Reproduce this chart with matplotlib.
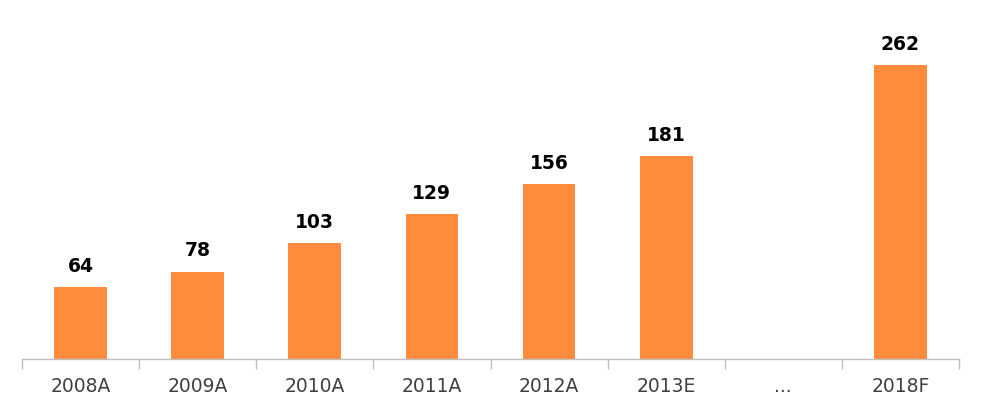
import matplotlib
matplotlib.use("Agg")
import matplotlib.pyplot as plt

categories = ["2008A", "2009A", "2010A", "2011A", "2012A", "2013E", "...", "2018F"]
values = [64, 78, 103, 129, 156, 181, None, 262]

bar_color = "#FF8B3D"

fig = plt.figure(figsize=(9.83, 4.14), dpi=100)
ax = fig.add_axes([22 / 983, 54 / 414, 937 / 983, 360 / 414])

xs = list(range(len(categories)))
for x, v in zip(xs, values):
    if v is None:
        continue
    ax.bar(x, v, width=0.45, color=bar_color, zorder=2)
    ax.text(x, v + 11, str(v), ha="center", va="bottom",
            fontsize=13.5, fontweight="bold", color="black")

ax.set_xlim(-0.5, len(categories) - 0.5)
ax.set_ylim(0, 321)

# category labels centred, tick marks between categories
ax.set_xticks(xs)
ax.set_xticklabels(categories, fontsize=13.5, color="#404040")
ax.tick_params(axis="x", which="major", length=0, pad=12)
ax.set_xticks([x - 0.5 for x in xs] + [len(xs) - 0.5], minor=True)
ax.tick_params(axis="x", which="minor", length=7, width=1, color="#BFBFBF")

ax.set_yticks([])
for side in ["top", "right", "left"]:
    ax.spines[side].set_visible(False)
ax.spines["bottom"].set_color("#BFBFBF")
ax.spines["bottom"].set_linewidth(1)

fig.savefig("out.png", dpi=100)
